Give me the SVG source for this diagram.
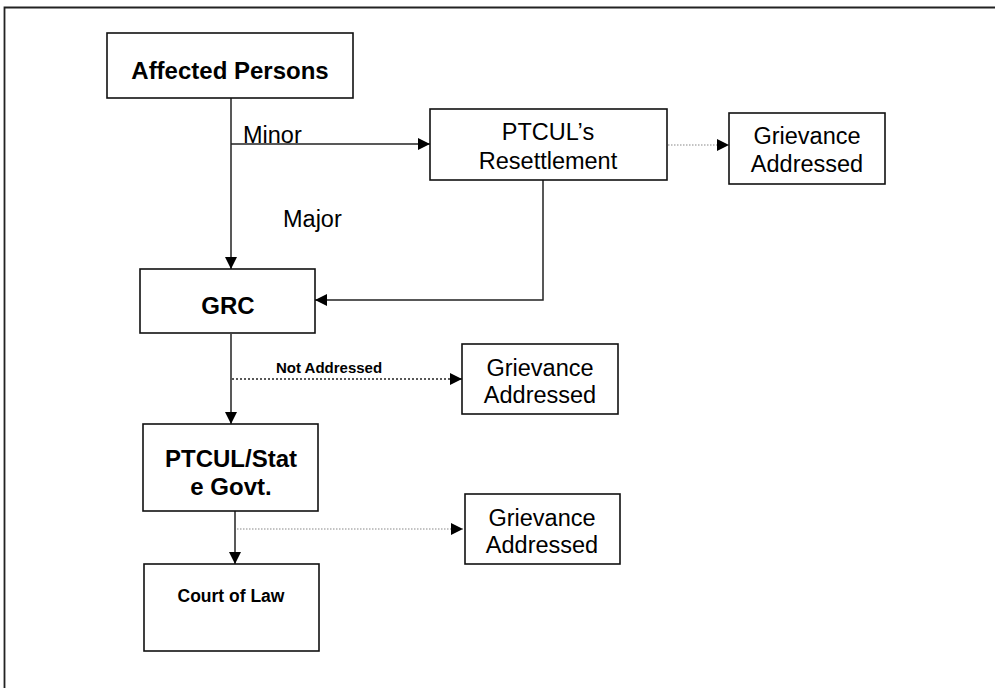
<svg xmlns="http://www.w3.org/2000/svg" width="995" height="688" viewBox="0 0 995 688">
<style>
.box{fill:#fff;stroke:#111;stroke-width:1.6}
.t{font-family:"Liberation Sans",Arial,sans-serif;fill:#000;text-anchor:middle}
.r{font-size:23.5px}
.b{font-weight:bold;font-size:24px}
.ln{fill:none;stroke:#222;stroke-width:1.5}
.dot1{fill:none;stroke:#888;stroke-width:1.2;stroke-dasharray:1.5 1.5}
.dot2{fill:none;stroke:#222;stroke-width:1.6;stroke-dasharray:2 2}
.lbl{font-family:"Liberation Sans",Arial,sans-serif;fill:#000}
</style>
<defs>
<marker id="ah" markerUnits="userSpaceOnUse" markerWidth="12" markerHeight="12" refX="12" refY="6" orient="auto">
<path d="M0,0 L12,6 L0,12 z" fill="#000"/>
</marker>
</defs>
<rect width="995" height="688" fill="#fff"/>
<g id="frame">
<path d="M4.5,688 V7.5 H995" fill="none" stroke="#222" stroke-width="1.8"/>
</g>
<g id="connectors">
<path class="ln" d="M231,98 V269" marker-end="url(#ah)"/>
<path class="ln" d="M231,144 H430" stroke-width="2" marker-end="url(#ah)"/>
<path class="ln" d="M543,180 V300 H315" marker-end="url(#ah)"/>
<path class="ln" d="M231,334 V424" marker-end="url(#ah)"/>
<path class="dot2" d="M232,379 H462" marker-end="url(#ah)"/>
<path class="dot1" d="M668,145 H729" marker-end="url(#ah)"/>
<path class="ln" d="M235,511 V564" stroke-width="2.2" marker-end="url(#ah)"/>
<path class="dot1" d="M237,529 H463" marker-end="url(#ah)"/>
<text class="lbl" x="243" y="143" font-size="23.5">Minor</text>
<text class="lbl" x="283" y="227" font-size="23.5">Major</text>
<text class="lbl" x="276" y="373" font-size="15" font-weight="bold">Not Addressed</text>
</g>
<g id="affected-persons">
<rect class="box" x="107" y="33" width="246" height="65"/>
<text class="t b" x="230" y="79">Affected Persons</text>
</g>
<g id="ptcul-resettlement">
<rect class="box" x="430" y="109" width="237" height="71"/>
<text class="t r" x="548" y="140">PTCUL’s</text>
<text class="t r" x="548" y="169">Resettlement</text>
</g>
<g id="grievance-1">
<rect class="box" x="729" y="113" width="156" height="71"/>
<text class="t r" x="807" y="144">Grievance</text>
<text class="t r" x="807" y="172">Addressed</text>
</g>
<g id="grc">
<rect class="box" x="140" y="269" width="175" height="64"/>
<text class="t b" x="228" y="314">GRC</text>
</g>
<g id="grievance-2">
<rect class="box" x="462" y="344" width="156" height="70"/>
<text class="t r" x="540" y="376">Grievance</text>
<text class="t r" x="540" y="403">Addressed</text>
</g>
<g id="ptcul-state">
<rect class="box" x="143" y="424" width="175" height="87"/>
<text class="t b" x="231" y="467">PTCUL/Stat</text>
<text class="t b" x="231" y="495">e Govt.</text>
</g>
<g id="grievance-3">
<rect class="box" x="465" y="494" width="155" height="70"/>
<text class="t r" x="542" y="526">Grievance</text>
<text class="t r" x="542" y="553">Addressed</text>
</g>
<g id="court-of-law">
<rect class="box" x="144" y="564" width="175" height="87"/>
<text class="t" x="231" y="602" font-size="17.5" font-weight="bold">Court of Law</text>
</g>
</svg>
